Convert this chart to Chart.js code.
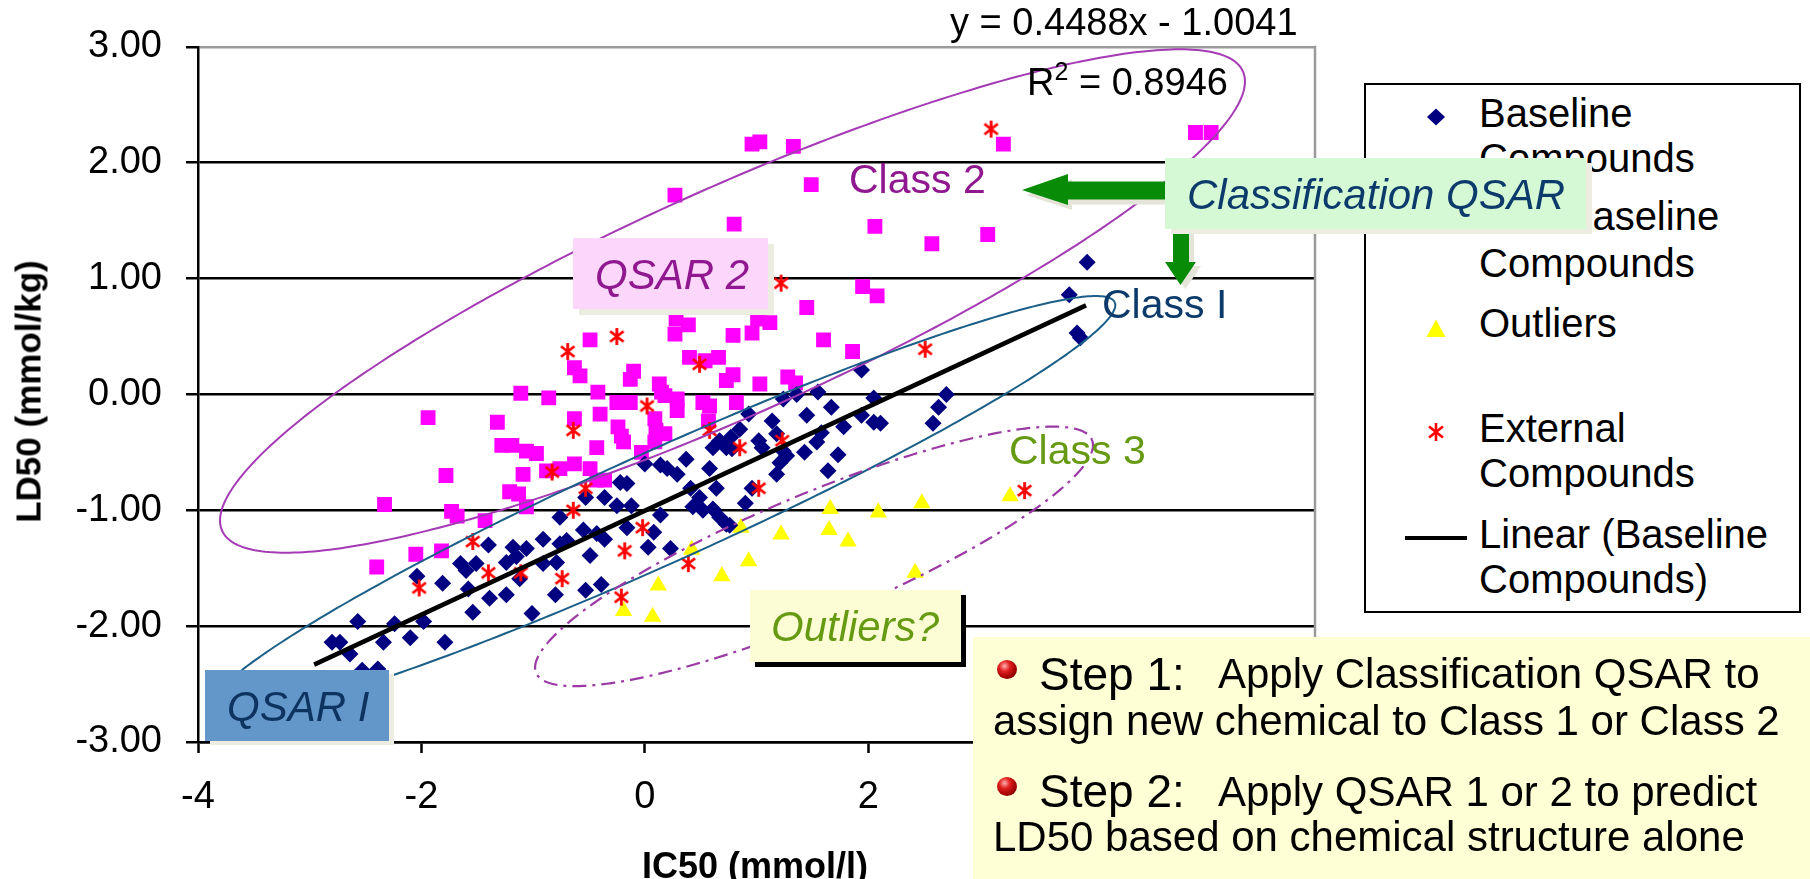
<!DOCTYPE html>
<html lang="en">
<head>
<meta charset="UTF-8">
<title>LD50 vs IC50 - QSAR classes</title>
<script src="https://cdn.jsdelivr.net/npm/chart.js@4.4.0/dist/chart.umd.min.js"></script>
<style>
    body { margin: 0; background: #fff; }
    #wrap { position: relative; width: 1810px; height: 879px; overflow: hidden; background: #fff;
            font-family: Arial, "Liberation Sans", sans-serif; }
    #chart { position: absolute; left: 0; top: 0; }
    .t { position: absolute; white-space: nowrap; line-height: 1; }
    .i { font-style: italic; }
    .box { position: absolute; box-sizing: border-box; }
    .bullet { position: absolute; width: 20px; height: 19px; border-radius: 50%;
              background: radial-gradient(circle at 38% 32%, #ffb0b0 0%, #e02020 30%, #a00000 65%, #5a0000 100%); }
</style>
</head>
<body>
<div id="wrap">
    <canvas id="chart" width="1810" height="879"></canvas>

    <!-- legend -->
    <div class="box" style="left:1364px;top:83px;width:437px;height:530px;border:2px solid #000;background:#fff;"></div>
    <div class="t" style="left:1479px;top:92.8px;font-size:40px;">Baseline</div>
    <div class="t" style="left:1479px;top:137.8px;font-size:40px;">Compounds</div>
    <div class="t" style="left:1479px;top:196.1px;font-size:40px;">Non-Baseline</div>
    <div class="t" style="left:1479px;top:242.8px;font-size:40px;">Compounds</div>
    <div class="t" style="left:1479px;top:302.8px;font-size:40px;">Outliers</div>
    <div class="t" style="left:1479px;top:407.8px;font-size:40px;">External</div>
    <div class="t" style="left:1479px;top:452.8px;font-size:40px;">Compounds</div>
    <div class="t" style="left:1479px;top:514.4px;font-size:40px;">Linear (Baseline</div>
    <div class="t" style="left:1479px;top:559.4px;font-size:40px;">Compounds)</div>

    <svg width="1810" height="879" style="position:absolute;left:0;top:0;">
        <!-- legend symbols -->
        <polygon points="1427,117 1436,108.5 1445,117 1436,125.5" fill="#000080"/>
        <rect x="1428.5" y="213.5" width="15" height="15" fill="#ff00ff"/>
        <polygon points="1436,319.5 1445.5,337 1426.5,337" fill="#ffff00"/>
        <g stroke="#ff0000" stroke-width="2.6">
            <line x1="1436" y1="423" x2="1436" y2="441"/>
            <line x1="1429" y1="426.5" x2="1443" y2="437.5"/>
            <line x1="1443" y1="426.5" x2="1429" y2="437.5"/>
        </g>
        <line x1="1405" y1="538" x2="1467" y2="538" stroke="#000" stroke-width="4"/>
        <!-- classification arrows -->
        <polygon transform="translate(4,5)" fill="#e4e4d8"
                 points="1022,190 1068,174 1068,181.5 1166,181.5 1166,199.5 1068,199.5 1068,205"/>
        <polygon fill="#088c08"
                 points="1022,190 1068,174 1068,181.5 1166,181.5 1166,199.5 1068,199.5 1068,205"/>
        <polygon transform="translate(5,4)" fill="#e4e4d8"
                 points="1173,229 1189,229 1189,262 1196,262 1180.5,285 1165,262 1173,262"/>
        <polygon fill="#088c08"
                 points="1173,229 1189,229 1189,262 1196,262 1180.5,285 1165,262 1173,262"/>
    </svg>

    <!-- call-out boxes -->
    <div class="box" style="left:573px;top:238px;width:195px;height:71px;background:#fcd6fb;box-shadow:6px 6px 0 #ecece0;"></div>
    <div class="t i" style="left:595px;top:254.4px;font-size:42px;color:#8f178f;">QSAR 2</div>

    <div class="box" style="left:1165px;top:158px;width:421px;height:71px;background:#d5f9d5;box-shadow:6px 5px 0 #ecece0;"></div>
    <div class="t i" style="left:1187px;top:174.4px;font-size:42px;color:#0c3b6b;">Classification QSAR</div>

    <div class="box" style="left:750px;top:590px;width:211px;height:72px;background:#fdfdd5;box-shadow:5px 5px 0 #000;"></div>
    <div class="t i" style="left:771px;top:606.1px;font-size:42px;color:#669a12;">Outliers?</div>

    <div class="box" style="left:205px;top:670px;width:184px;height:71px;background:#6497c9;box-shadow:5px 4px 0 #ecece0;"></div>
    <div class="t i" style="left:227px;top:686.1px;font-size:42px;color:#0d3360;">QSAR I</div>

    <!-- class names -->
    <div class="t" style="left:849px;top:158.6px;font-size:41px;color:#8f178f;">Class 2</div>
    <div class="t" style="left:1102px;top:283.6px;font-size:41px;color:#0c3b6b;">Class I</div>
    <div class="t" style="left:1009px;top:430.3px;font-size:41px;color:#669a12;">Class 3</div>

    <!-- trend line equation -->
    <div class="t" id="eq" style="left:950px;top:2.8px;font-size:38px;"></div>
    <div class="t" id="r2" style="left:1027px;top:62.8px;font-size:38px;"></div>

    <!-- steps panel -->
    <div class="box" style="left:973px;top:637px;width:837px;height:242px;background:#ffffd5;"></div>
    <div class="bullet" style="left:997px;top:660px;"></div>
    <div class="t" style="left:1039px;top:651.1px;font-size:46px;">Step 1:</div>
    <div class="t" style="left:1218px;top:652.8px;font-size:42px;">Apply Classification QSAR to</div>
    <div class="t" style="left:993px;top:699.5px;font-size:42px;">assign new chemical to Class 1 or Class 2</div>
    <div class="bullet" style="left:997px;top:777px;"></div>
    <div class="t" style="left:1039px;top:767.8px;font-size:46px;">Step 2:</div>
    <div class="t" style="left:1218px;top:770.5px;font-size:42px;">Apply QSAR 1 or 2 to predict</div>
    <div class="t" style="left:993px;top:816.2px;font-size:42px;">LD50 based on chemical structure alone</div>

    <!-- axis titles -->
    <div class="t" style="left:-172px;top:373.5px;width:400px;height:35px;text-align:center;font-size:35px;font-weight:bold;transform:rotate(-90deg);">LD50 (mmol/kg)</div>
    <div class="t" style="left:555px;top:847.5px;width:400px;text-align:center;font-size:36px;font-weight:bold;">IC50 (mmol/l)</div>
</div>

<script>
// [IC50, LD50] pairs, log units
const baselinePoints = [
    [3.96, 1.14], [3.80, 0.86], [3.87, 0.53], [3.90, 0.49], [1.94, 0.21], [1.55, 0.02], [2.05, -0.03], [2.70, 0.00],
    [2.63, -0.11], [1.67, -0.11], [1.24, -0.04], [1.36, 0.00], [0.93, -0.17], [1.14, -0.23], [1.45, -0.18], [1.94, -0.18],
    [2.05, -0.24], [2.11, -0.25], [1.78, -0.28], [2.58, -0.25], [0.85, -0.30], [1.02, -0.40], [1.05, -0.46], [1.18, -0.34],
    [1.24, -0.49], [1.27, -0.53], [1.21, -0.59], [1.18, -0.69], [1.43, -0.50], [1.54, -0.41], [1.58, -0.33], [1.73, -0.52],
    [1.64, -0.66], [0.78, -0.47], [0.90, -0.94], [0.96, -0.81], [0.76, -1.13], [0.77, -0.37], [0.67, -0.40], [0.61, -0.46],
    [0.73, -0.46], [0.37, -0.56], [0.58, -0.64], [0.00, -0.60], [0.14, -0.61], [0.20, -0.64], [0.29, -0.69], [-0.22, -0.76],
    [-0.16, -0.77], [-0.36, -0.89], [-0.53, -0.89], [-0.25, -0.96], [-0.12, -0.96], [0.41, -0.81], [0.49, -0.89], [0.64, -0.81],
    [0.43, -0.97], [0.52, -1.00], [0.61, -0.99], [0.67, -1.06], [0.73, -1.12], [0.14, -1.04], [-0.76, -1.06], [-0.16, -1.15],
    [0.08, -1.19], [-0.55, -1.17], [-0.43, -1.20], [-0.36, -1.25], [-0.70, -1.26], [-0.76, -1.29], [-0.91, -1.25], [-1.06, -1.33],
    [-1.18, -1.32], [-1.15, -1.40], [-1.40, -1.30], [-1.24, -1.45], [-0.91, -1.46], [-0.79, -1.45], [-0.49, -1.39], [0.03, -1.32],
    [0.23, -1.33], [-1.39, -1.76], [-1.24, -1.73], [-1.12, -1.59], [-0.80, -1.73], [-0.53, -1.69], [-0.39, -1.64], [-1.01, -1.89],
    [-1.65, -1.46], [-1.60, -1.52], [-1.51, -1.46], [-2.04, -1.57], [-1.81, -1.63], [-1.58, -1.68], [-1.54, -1.88], [-2.57, -1.96],
    [-2.24, -1.98], [-1.98, -1.96], [-2.34, -2.14], [-2.10, -2.10], [-1.79, -2.14], [-2.80, -2.14], [-2.73, -2.14], [-2.64, -2.24],
    [-2.53, -2.38], [-2.39, -2.37]
];

const nonBaselinePoints = [
    [3.21, 2.16], [1.49, 1.81], [2.06, 1.45], [2.57, 1.30], [3.07, 1.38], [1.95, 0.93], [2.08, 0.85], [1.45, 0.75],
    [1.60, 0.47], [1.86, 0.37], [0.96, 2.16], [1.03, 2.18], [1.33, 2.14], [0.27, 1.72], [0.80, 1.47], [4.93, 2.26],
    [5.07, 2.26], [0.28, 0.65], [0.39, 0.60], [1.01, 0.65], [1.12, 0.62], [0.27, 0.52], [0.79, 0.51], [0.96, 0.53],
    [-0.49, 0.47], [0.40, 0.32], [0.54, 0.29], [0.66, 0.32], [0.73, 0.12], [0.79, 0.17], [1.03, 0.09], [-0.10, 0.20],
    [-0.13, 0.13], [0.13, 0.09], [-0.63, 0.23], [-0.58, 0.16], [-0.42, 0.02], [-0.25, -0.07], [-0.13, -0.07], [0.18, -0.01],
    [0.29, -0.04], [0.52, -0.07], [0.82, -0.07], [1.28, 0.15], [1.35, 0.10], [-1.11, 0.01], [-0.86, -0.03], [-1.94, -0.20],
    [-1.32, -0.24], [-0.40, -0.17], [-0.63, -0.21], [0.15, 0.02], [0.29, -0.14], [0.58, -0.10], [-0.24, -0.28], [-0.21, -0.36],
    [-0.19, -0.41], [-0.43, -0.46], [0.09, -0.21], [0.10, -0.31], [0.18, -0.34], [0.09, -0.41], [-0.03, -0.50], [0.57, -0.23],
    [-1.28, -0.44], [-1.19, -0.44], [-1.06, -0.49], [-0.97, -0.51], [-1.09, -0.69], [-0.88, -0.66], [-0.76, -0.64], [-0.63, -0.60],
    [-0.49, -0.64], [-1.21, -0.84], [-1.13, -0.86], [-1.06, -0.97], [-1.43, -1.09], [-0.43, -0.74], [-0.36, -0.74], [-1.78, -0.70],
    [-2.33, -0.95], [-1.73, -1.01], [-1.68, -1.05], [-1.82, -1.35], [-2.05, -1.38], [-2.40, -1.49]
];

const outlierPoints = [
    [0.42, -1.34], [0.69, -1.57], [0.12, -1.65], [-0.19, -1.87], [0.07, -1.92], [0.93, -1.44], [0.86, -1.15], [1.22, -1.21],
    [1.66, -0.99], [1.65, -1.17], [1.82, -1.27], [2.09, -1.02], [2.48, -0.94], [2.42, -1.54], [3.27, -0.88]
];

const externalPoints = [
    [3.10, 2.29], [2.51, 0.39], [1.22, 0.96], [-0.25, 0.50], [-0.69, 0.37], [0.49, 0.26], [0.02, -0.10], [-0.64, -0.31],
    [-1.54, -1.27], [-2.02, -1.67], [-0.83, -0.67], [-0.53, -0.81], [-0.64, -1.00], [0.58, -0.31], [-0.02, -1.15], [-0.18, -1.35],
    [-1.40, -1.54], [-1.11, -1.54], [-0.74, -1.59], [-0.21, -1.75], [0.39, -1.46], [3.40, -0.83], [0.85, -0.46], [1.23, -0.40],
    [1.02, -0.81]
];

// linear fit through the baseline compounds
const fitSlope = 0.4488;
const fitIntercept = -1.0041;
const fitR2 = 0.8946;
const fitRange = [-2.96, 3.95];

// class outlines: centre, end of one semi-axis, end of the conjugate semi-axis (data units)
const classOutlines = [
    { centre: [0.785, 0.806], major: [5.354, 2.789], minor: [1.201, -0.081] },   // class 2
    { centre: [0.154, -0.967], major: [4.207, 0.795], minor: [0.360, -1.406] },  // class I
    { centre: [1.515, -1.398], major: [4.003, -0.392], minor: [1.730, -1.890] }  // class 3
];
const outlineStyles = [
    { color: '#a43ab4', width: 2, dash: [] },
    { color: '#1b5f88', width: 2, dash: [] },
    { color: '#9b3aa5', width: 2.2, dash: [14, 6, 3, 6] }
];

const xTicks = { min: -4, max: 6, step: 2 };
const yTicks = { min: -3, max: 3, step: 1 };

const FONT = 'Arial, "Liberation Sans", sans-serif';
const toXY = p => ({ x: p[0], y: p[1] });

document.getElementById('eq').textContent =
    'y = ' + fitSlope.toFixed(4) + 'x ' + (fitIntercept < 0 ? '- ' : '+ ') + Math.abs(fitIntercept).toFixed(4);
document.getElementById('r2').innerHTML =
    'R<span style="position:relative;top:-15px;font-size:25px;">2</span> = ' + fitR2.toFixed(4);

// six-armed asterisk marker for the external set
function asteriskMark(size, color) {
    const c = document.createElement('canvas');
    c.width = c.height = size;
    const g = c.getContext('2d');
    const m = size / 2, r = size / 2 - 1;
    g.strokeStyle = color;
    g.lineWidth = 2.8;
    g.beginPath();
    g.moveTo(m, m - r); g.lineTo(m, m + r);
    [52, -52].forEach(deg => {
        const a = deg * Math.PI / 180;
        g.moveTo(m - r * Math.sin(a), m - r * Math.cos(a));
        g.lineTo(m + r * Math.sin(a), m + r * Math.cos(a));
    });
    g.stroke();
    return c;
}

const outlinePlugin = {
    id: 'classOutlines',
    afterDatasetsDraw(chart) {
        const { ctx, chartArea, scales: { x, y } } = chart;
        classOutlines.forEach((o, k) => {
            const st = outlineStyles[k];
            const cx = x.getPixelForValue(o.centre[0]), cy = y.getPixelForValue(o.centre[1]);
            const ax = x.getPixelForValue(o.major[0]) - cx, ay = y.getPixelForValue(o.major[1]) - cy;
            const bx = x.getPixelForValue(o.minor[0]) - cx, by = y.getPixelForValue(o.minor[1]) - cy;
            ctx.save();
            ctx.beginPath();
            for (let i = 0; i <= 360; i++) {
                const t = i * Math.PI / 180;
                const px = cx + ax * Math.cos(t) + bx * Math.sin(t);
                const py = cy + ay * Math.cos(t) + by * Math.sin(t);
                if (i === 0) ctx.moveTo(px, py); else ctx.lineTo(px, py);
            }
            ctx.strokeStyle = st.color;
            ctx.lineWidth = st.width;
            ctx.setLineDash(st.dash);
            ctx.stroke();
            ctx.restore();
        });
        // grey frame on the right side of the plot
        ctx.save();
        ctx.strokeStyle = '#9a9a9a';
        ctx.lineWidth = 2.5;
        ctx.beginPath();
        ctx.moveTo(chartArea.right, chartArea.top - 1);
        ctx.lineTo(chartArea.right, chartArea.bottom);
        ctx.stroke();
        ctx.restore();
    }
};

const ctx = document.getElementById('chart').getContext('2d');
new Chart(ctx, {
    type: 'scatter',
    data: {
        datasets: [
            {
                label: 'Linear (Baseline Compounds)',
                type: 'line',
                data: fitRange.map(v => ({ x: v, y: fitSlope * v + fitIntercept })),
                borderColor: '#000',
                borderWidth: 4.5,
                pointRadius: 0,
                fill: false
            },
            {
                label: 'External Compounds',
                data: externalPoints.map(toXY),
                pointStyle: asteriskMark(19, '#ff0000'),
                pointRadius: 9,
                borderWidth: 0
            },
            {
                label: 'Baseline Compounds',
                data: baselinePoints.map(toXY),
                pointStyle: 'rectRot',
                pointRadius: 8.5,
                backgroundColor: '#000080',
                borderColor: '#000080',
                pointBorderWidth: 0
            },
            {
                label: 'Outliers',
                data: outlierPoints.map(toXY),
                pointStyle: 'triangle',
                pointRadius: 10,
                backgroundColor: '#ffff00',
                borderColor: '#ffff00',
                pointBorderWidth: 0
            },
            {
                label: 'Non-Baseline Compounds',
                data: nonBaselinePoints.map(toXY),
                pointStyle: 'rect',
                pointRadius: 10.5,
                backgroundColor: '#ff00ff',
                borderColor: '#ff00ff',
                pointBorderWidth: 0
            }
        ]
    },
    options: {
        responsive: false,
        animation: false,
        layout: { padding: { top: 45, right: 495, left: 0, bottom: 0 } },
        plugins: { legend: { display: false }, tooltip: { enabled: false } },
        scales: {
            x: {
                type: 'linear',
                min: xTicks.min,
                max: xTicks.max,
                afterFit: s => { s.height = 137; },
                ticks: { stepSize: xTicks.step, color: '#000', padding: 22, maxRotation: 0,
                         font: { family: FONT, size: 38 } },
                grid: { drawOnChartArea: false, tickLength: 11, tickWidth: 2.5, tickColor: '#000' },
                border: { color: '#000', width: 2.5 }
            },
            y: {
                min: yTicks.min,
                max: yTicks.max,
                afterFit: s => { s.width = 198; },
                ticks: { stepSize: yTicks.step, color: '#000', padding: 24,
                         font: { family: FONT, size: 38 },
                         callback: v => v.toFixed(2) },
                grid: {
                    color: c => (c.tick && c.tick.value === yTicks.max) ? '#9a9a9a' : '#000',
                    lineWidth: 2.5,
                    tickLength: 12,
                    tickWidth: 2.5,
                    tickColor: '#000'
                },
                border: { color: '#000', width: 2.5 }
            }
        }
    },
    plugins: [outlinePlugin]
});
</script>
</body>
</html>
